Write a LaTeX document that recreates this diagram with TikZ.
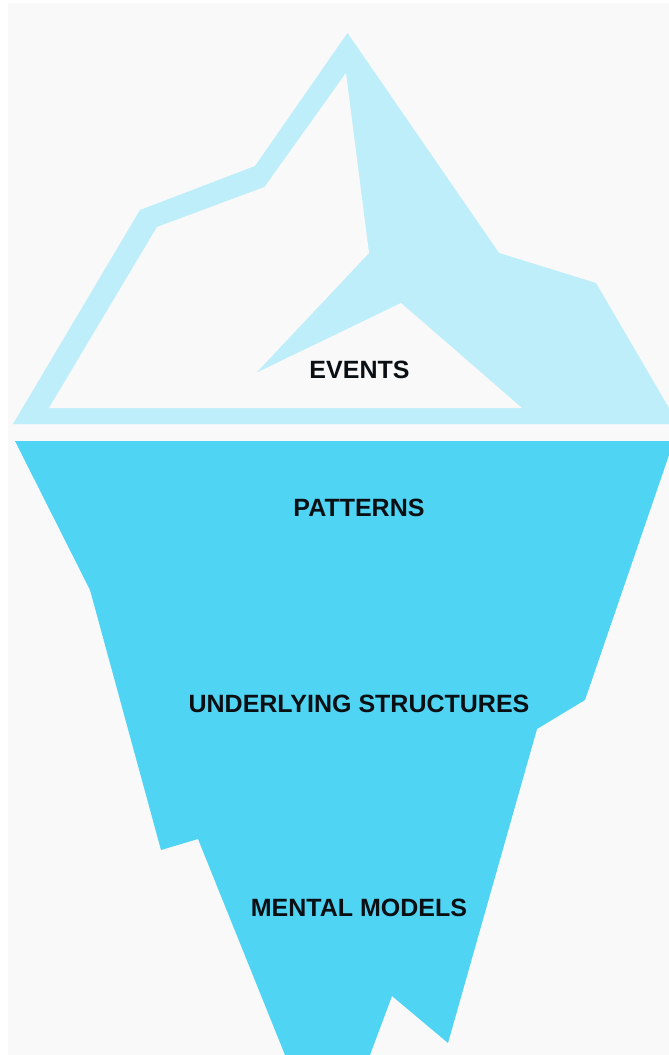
\documentclass[tikz,border=0pt]{standalone}
\usepackage{fontspec}
\setmainfont{Liberation Sans}
\definecolor{bgpaper}{HTML}{F9F9FA}
\definecolor{icepale}{HTML}{BDEEF9}
\definecolor{icedeep}{HTML}{4FD5F3}
\definecolor{inkdark}{HTML}{0A0F14}
\tikzset{
  iceshape/.style={fill=#1,draw=none},
  lbl/.style={font=\bfseries\fontsize{25}{27}\selectfont,text=inkdark,inner sep=0pt,anchor=center}
}
\begin{document}
\begin{tikzpicture}[x=1pt,y=-1pt]
\useasboundingbox (0,0) rectangle (669,1055);
\fill[white] (0,0) rectangle (669,1055);
\fill[bgpaper] (8,3) rectangle (669,1055);
\path[iceshape=icepale] (347.5,33) -- (499,253) -- (596,283) -- (669,408) -- (669,424) -- (13,424) -- (140,210) -- (255,166) -- cycle;
\path[iceshape=bgpaper] (346,73) -- (369,253) -- (256,373) -- (401,303) -- (522,408) -- (49,408) -- (157,227) -- (264.5,187) -- cycle;
\path[iceshape=icedeep] (15,441) -- (669,441) -- (669,455) -- (585,700) -- (537,729) -- (448,1043) -- (392,996) -- (370,1055) -- (285,1055) -- (198,839) -- (161,850) -- (90,590) -- cycle;
\node[lbl] (events) at (359.5,370) {EVENTS};
\node[lbl] (patterns) at (359,508) {PATTERNS};
\node[lbl] (structures) at (359,704) {UNDERLYING STRUCTURES};
\node[lbl] (models) at (359,908) {MENTAL MODELS};
\end{tikzpicture}
\end{document}
